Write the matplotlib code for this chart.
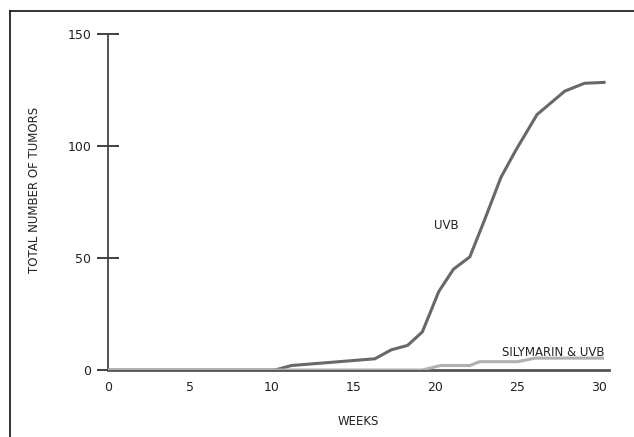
import matplotlib.pyplot as plt
from matplotlib.lines import Line2D

# values
uvb_weeks = [0, 10.2, 11.2, 16.3, 17.3, 18.3, 19.2, 20.2, 21.1, 22.1, 23.0, 24.0, 24.9, 26.2, 27.9, 29.1, 30.3]
uvb_tumors = [0, 0, 2, 5, 9, 11, 17, 35, 45, 50.5, 67, 86, 98, 114, 124.5, 128, 128.4]

sily_weeks = [0, 19.2, 20.3, 22.1, 22.7, 25.0, 26.1, 30.2]
sily_tumors = [0, 0, 2, 2, 3.7, 3.7, 5.3, 5.3]

x_ticks = [0, 5, 10, 15, 20, 25, 30]
y_ticks = [0, 50, 100, 150]

plt.rcParams['font.family'] = ['DejaVu Sans']
txt = '#222222'

fig = plt.figure(figsize=(6.34, 4.37), dpi=100)
ax = fig.add_axes([108 / 634, 1 - 370 / 437, 501 / 634, 336 / 437])

# frame around the figure (only top and left edges are visible)
fig.add_artist(Line2D([10 / 634, 10 / 634], [0, 1 - 11 / 437], transform=fig.transFigure,
                      color='#222222', lw=1.3))
fig.add_artist(Line2D([10 / 634, 1], [1 - 11 / 437, 1 - 11 / 437], transform=fig.transFigure,
                      color='#222222', lw=1.3))

ax.plot(uvb_weeks, uvb_tumors, color='#686868', lw=2.2, solid_joinstyle='miter', zorder=3)
ax.plot(sily_weeks, sily_tumors, color='#b0b0b0', lw=2.2, solid_joinstyle='miter', zorder=4)

ax.set_xlim(0, 30.6)
ax.set_ylim(0, 150)
ax.set_xticks(x_ticks)
ax.set_yticks(y_ticks)

for s in ['top', 'right']:
    ax.spines[s].set_visible(False)
ax.spines['bottom'].set_color('#555555')
ax.spines['bottom'].set_linewidth(2)
ax.spines['left'].set_color('#444444')
ax.spines['left'].set_linewidth(1.3)
ax.spines['left'].set_bounds(0, 150)

ax.tick_params(axis='y', direction='inout', length=16, width=1.3, color='#333333',
               labelsize=9, labelcolor=txt, pad=4)
ax.tick_params(axis='x', length=0, labelsize=9, labelcolor=txt, pad=8)

ax.set_xlabel('WEEKS', fontsize=8.5, color=txt, labelpad=15)
ax.set_ylabel('TOTAL NUMBER OF TUMORS', fontsize=8.5, color=txt)
ax.yaxis.set_label_coords(-0.134, 0.536)

ax.text(21.4, 64.3, 'UVB', fontsize=8.5, color=txt, ha='right', va='center')
ax.text(30.3, 8.0, 'SILYMARIN & UVB', fontsize=8.5, color=txt, ha='right', va='center')

fig.savefig('out.png', dpi=100)
